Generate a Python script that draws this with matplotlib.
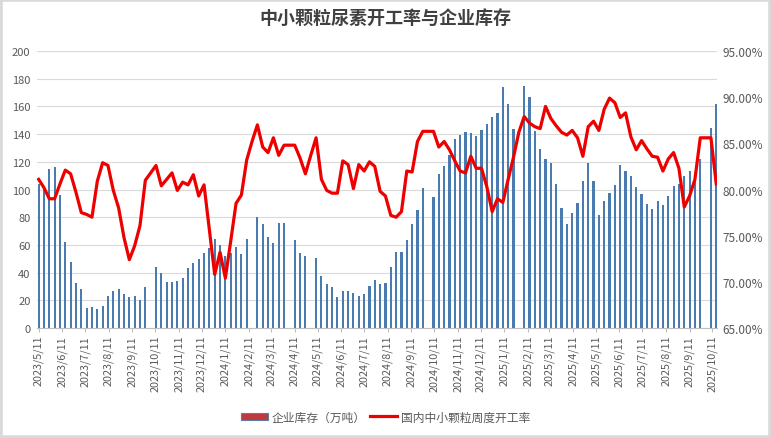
import matplotlib
matplotlib.use('Agg')
import matplotlib.pyplot as plt
import matplotlib.dates as mdates
from matplotlib.patches import Rectangle, Patch
from matplotlib.lines import Line2D
from matplotlib.ticker import FuncFormatter, MultipleLocator
import numpy as np
import pandas as pd

plt.rcParams['font.family'] = ['Noto Sans CJK SC', 'DejaVu Sans']

nan = np.nan
# 每周四的数据，2023/5/11 起
weeks = pd.date_range('2023-05-11', periods=128, freq='7D')

# 企业库存（万吨），节假日那周没有数据
stock = [
    104, 100, 115, 116, 96, 62, 48, 32.5, 28, 14.5,
    15, 14, 16, 23, 27, 28, 24.5, 22.5, 23, 20,
    29.5, nan, 44, 40, 33, 33, 34, 36, 43, 47,
    50, 54, 57.5, 64, 60, 52, 54, 58.5, 53.5, 64,
    nan, 80.5, 75, 66, 61.5, 75.7, 75.7, nan, 63.5, 54.5,
    52, nan, 50.5, 37.5, 31.8, 29.4, 22.4, 26.7, 26.6, 25.2,
    23.2, 24.6, 30.2, 34.6, 31.7, 32.3, 43.8, 54.8, 54.7, 63.8,
    75, 85, 101, nan, 94.5, 111.2, 116.8, 125, 136.3, 139,
    141.3, 140.6, 138.5, 142.9, 147.1, 152.2, 155, 174, 162, 143.5,
    nan, 174.5, 166.6, 142, 129, 121.9, 119, 103.8, 86.5, 75,
    83, 90, 106, 119, 106, 81.5, 91.6, 97.8, 103, 117.5,
    113.5, 109.6, 101.7, 96.8, 89.6, 85.9, 91.6, 88.8, 95.3, 102.6,
    104, 109.8, 113.5, 107.5, 122.2, nan, 144.5, 162,
]

# 国内中小颗粒周度开工率（%）
rate = [
    81.1, 80.2, 79.0, 79.0, 80.6, 82.1, 81.7, 79.7, 77.5, 77.3,
    77.0, 80.9, 82.9, 82.6, 79.9, 78.0, 74.8, 72.4, 73.9, 76.1,
    81.0, 81.8, 82.6, 80.4, 81.1, 81.8, 79.9, 80.8, 80.5, 81.6,
    79.3, 80.5, 75.7, 70.8, 73.2, 70.4, 74.4, 78.5, 79.4, 83.2,
    85.2, 87.0, 84.6, 84.0, 85.6, 83.7, 84.8, 84.8, 84.8, 83.4,
    81.7, 83.7, 85.6, 81.1, 79.9, 79.6, 79.6, 83.1, 82.7, 80.1,
    82.7, 82.0, 83.0, 82.5, 79.8, 79.3, 77.2, 77.0, 77.6, 82.0,
    81.9, 85.2, 86.3, 86.3, 86.3, 84.6, 85.2, 84.3, 83.1, 82.0,
    81.8, 83.6, 82.3, 82.3, 80.3, 77.6, 79.0, 78.6, 81.1, 83.5,
    86.2, 87.9, 87.2, 86.8, 86.6, 89.0, 87.7, 86.9, 86.2, 85.9,
    86.4, 85.6, 83.6, 86.8, 87.4, 86.4, 88.7, 89.9, 89.4, 87.8,
    88.3, 85.7, 84.3, 85.3, 84.4, 83.6, 83.5, 82.0, 83.3, 84.0,
    82.3, 78.1, 79.3, 81.1, 85.6, 85.6, 85.6, 80.6,
]

# 每月 11 日一个刻度
month_ticks = pd.date_range('2023-05-01', '2025-10-01', freq='MS') + pd.Timedelta(days=10)

title = '中小颗粒尿素开工率与企业库存'
bar_label = '企业库存（万吨）'
line_label = '国内中小颗粒周度开工率'

grey = '#595959'
bar_color = '#4a7bb0'
line_color = '#ee0000'

fig = plt.figure(figsize=(7.71, 4.39), dpi=100)
ax = fig.add_axes([0.0486, 0.2506, 0.8814, 0.6309])

x = mdates.date2num(weeks)
ax.bar(x, stock, width=2.8, color=bar_color, zorder=2)
ax.set_ylim(0, 200)
ax.yaxis.set_major_locator(MultipleLocator(20))
ax.grid(axis='y', color='#d9d9d9', linewidth=0.8, zorder=0)
ax.set_axisbelow(True)
ax.set_xlim(x[0] - 1.5, x[-1] + 1.0)

ax.set_xticks(mdates.date2num(month_ticks))
ax.set_xticklabels([f'{d.year}/{d.month}/{d.day}' for d in month_ticks],
                   rotation=90, fontsize=7.8, color=grey)
ax.tick_params(axis='x', length=3, color='#bfbfbf', pad=2)
ax.tick_params(axis='y', length=0, labelsize=8, labelcolor=grey, pad=5)
for s in ['left', 'right', 'top']:
    ax.spines[s].set_visible(False)
ax.spines['bottom'].set_color('#bfbfbf')

ax2 = ax.twinx()
ax2.plot(x, rate, color=line_color, linewidth=2.3, solid_joinstyle='round', zorder=3)
ax2.set_ylim(65, 95)
ax2.yaxis.set_major_locator(MultipleLocator(5))
ax2.yaxis.set_major_formatter(FuncFormatter(lambda v, p: f'{v:.2f}%'))
ax2.tick_params(axis='y', length=0, labelsize=8.5, labelcolor=grey, pad=4)
for s in ['left', 'right', 'top', 'bottom']:
    ax2.spines[s].set_visible(False)

fig.text(0.5, 1 - 18 / 439, title, ha='center', va='center',
         fontsize=13, fontweight='bold', color='#404040')

handles = [Patch(facecolor='#c0393b', edgecolor='#5b7fa8', linewidth=0.8),
           Line2D([0], [0], color=line_color, linewidth=2.3)]
fig.legend(handles, [bar_label, line_label], loc='center',
           bbox_to_anchor=(0.5, 0.048), ncol=2, frameon=False,
           fontsize=8.5, handlelength=2.3, handleheight=0.6,
           handletextpad=0.3, columnspacing=0.4, labelcolor=grey)

fig.patches.append(Rectangle((0, 0), 1, 1, transform=fig.transFigure, fill=False,
                             edgecolor='#d9d9d9', linewidth=4))

fig.savefig('out.png', dpi=100)
